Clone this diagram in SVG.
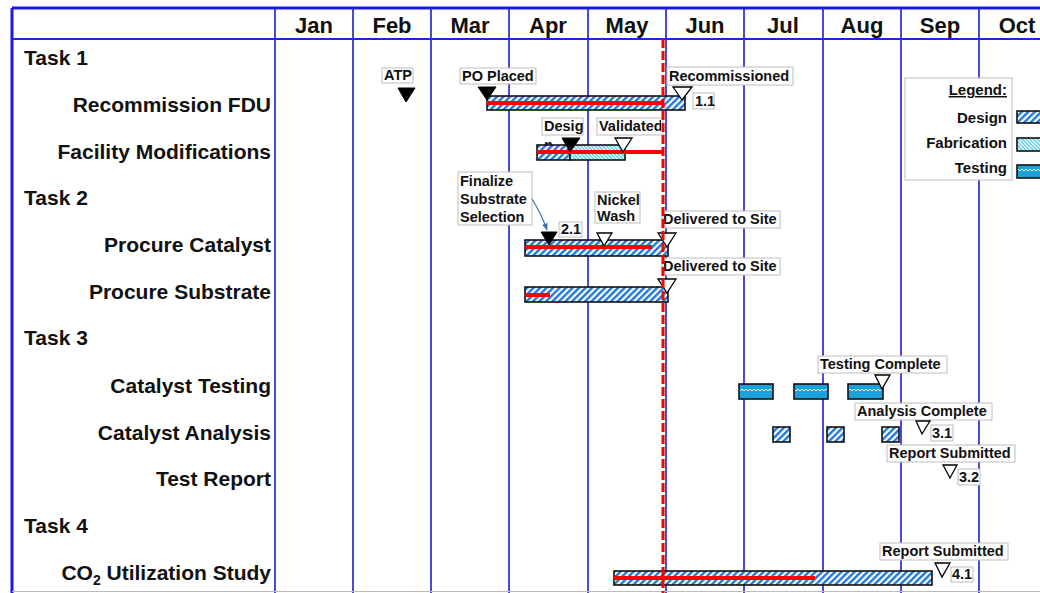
<svg xmlns="http://www.w3.org/2000/svg" width="1040" height="593" viewBox="0 0 1040 593">
<style>
.hdr{font-family:"Liberation Sans",Arial,sans-serif;font-weight:bold;font-size:22px;fill:#111;text-anchor:middle}
.row{font-family:"Liberation Sans",Arial,sans-serif;font-weight:bold;font-size:21px;fill:#111}
.sub{text-anchor:end}
.lbl{font-family:"Liberation Sans",Arial,sans-serif;font-weight:bold;font-size:14.5px;fill:#111}
.lg{font-family:"Liberation Sans",Arial,sans-serif;font-weight:bold;font-size:15px;fill:#111;text-anchor:end}
.box{fill:#fff;stroke:#bdbdbd;stroke-width:1}
.grid{stroke:#4a4ad6;stroke-width:2}
.bar{stroke:#111;stroke-width:1.6}
.prog{stroke:#ff0000;stroke-width:4}
.ms{fill:#000;stroke:#000;stroke-width:1}
.mo{fill:#fff;stroke:#000;stroke-width:1.3}
</style>
<defs>
<pattern id="design" patternUnits="userSpaceOnUse" width="4.6" height="4.6" patternTransform="rotate(45)">
<rect width="4.6" height="4.6" fill="#fff"/>
<rect width="2.4" height="4.6" fill="#1f78d8"/>
</pattern>
<pattern id="fab" patternUnits="userSpaceOnUse" width="2.6" height="2.6" patternTransform="rotate(-45)">
<rect width="2.6" height="2.6" fill="#e2f7fc"/>
<rect width="0.9" height="2.6" fill="#3fbfe2"/>
</pattern>
<pattern id="zig" patternUnits="userSpaceOnUse" width="4" height="4">
<polyline points="0,3 2,1 4,3" fill="none" stroke="#fff" stroke-width="0.9"/>
</pattern>
<clipPath id="valclip"><rect x="597" y="118" width="64" height="17"/></clipPath>
<marker id="arr" viewBox="0 0 10 10" refX="9" refY="5" markerWidth="6" markerHeight="6" orient="auto">
<path d="M0,1 L10,5 L0,9 z" fill="#3a6fb0"/>
</marker>
</defs>
<rect x="0" y="0" width="1040" height="593" fill="#fff"/>

<g id="grid">
<line class="grid" x1="275" y1="8" x2="275" y2="593"/>
<line class="grid" x1="353" y1="8" x2="353" y2="593"/>
<line class="grid" x1="431" y1="8" x2="431" y2="593"/>
<line class="grid" x1="509" y1="8" x2="509" y2="593"/>
<line class="grid" x1="588" y1="8" x2="588" y2="593"/>
<line class="grid" x1="666" y1="8" x2="666" y2="593"/>
<line class="grid" x1="744" y1="8" x2="744" y2="593"/>
<line class="grid" x1="823" y1="8" x2="823" y2="593"/>
<line class="grid" x1="901" y1="8" x2="901" y2="593"/>
<line class="grid" x1="979" y1="8" x2="979" y2="593"/>
<line x1="12" y1="39" x2="1040" y2="39" stroke="#2222e0" stroke-width="2"/>
<line x1="12" y1="8" x2="1040" y2="8" stroke="#1a1ae6" stroke-width="3"/>
<line x1="12" y1="8" x2="12" y2="593" stroke="#1a1ae6" stroke-width="3"/>
<line x1="12" y1="591.5" x2="1040" y2="591.5" stroke="#bbbbbb" stroke-width="1"/>
</g>

<g id="months">
<text class="hdr" x="314" y="33">Jan</text>
<text class="hdr" x="392" y="33">Feb</text>
<text class="hdr" x="470" y="33">Mar</text>
<text class="hdr" x="548" y="33">Apr</text>
<text class="hdr" x="627" y="33">May</text>
<text class="hdr" x="705" y="33">Jun</text>
<text class="hdr" x="783" y="33">Jul</text>
<text class="hdr" x="862" y="33">Aug</text>
<text class="hdr" x="940" y="33">Sep</text>
<text class="hdr" x="1017" y="33">Oct</text>
</g>

<g id="row-labels">
<text class="row" x="24" y="65">Task 1</text>
<text class="row sub" x="271" y="112">Recommission FDU</text>
<text class="row sub" x="271" y="159">Facility Modifications</text>
<text class="row" x="24" y="205">Task 2</text>
<text class="row sub" x="271" y="252">Procure Catalyst</text>
<text class="row sub" x="271" y="299">Procure Substrate</text>
<text class="row" x="24" y="345">Task 3</text>
<text class="row sub" x="271" y="393">Catalyst Testing</text>
<text class="row sub" x="271" y="440">Catalyst Analysis</text>
<text class="row sub" x="271" y="486">Test Report</text>
<text class="row" x="24" y="533">Task 4</text>
<text class="row sub" x="271" y="580">CO<tspan font-size="14" dy="5">2</tspan><tspan dy="-5"> Utilization Study</tspan></text>
</g>

<g id="legend">
<rect class="box" x="905" y="78" width="107" height="102"/>
<text class="lg" x="1007" y="95" font-size="17" text-decoration="underline">Legend:</text>
<text class="lg" x="1007" y="123">Design</text>
<text class="lg" x="1007" y="148">Fabrication</text>
<text class="lg" x="1007" y="173">Testing</text>
<rect class="bar" x="1017" y="111" width="30" height="12" fill="url(#design)"/>
<rect class="bar" x="1017" y="138" width="30" height="13" fill="url(#fab)"/>
<rect class="bar" x="1017" y="165" width="30" height="13" fill="#1aa3da"/>
<rect x="1018" y="168" width="28" height="4" fill="url(#zig)"/>
</g>

<g id="recommission-fdu">
<rect class="bar" x="487" y="96" width="198" height="14" fill="url(#design)"/>
<line class="prog" x1="487" y1="103" x2="663" y2="103"/>
<g id="ms-atp">
<rect class="box" x="382" y="68" width="31" height="15"/>
<text class="lbl" x="384" y="80">ATP</text>
<polygon class="ms" points="398,88 415,88 406,102"/>
</g>
<g id="ms-po">
<rect class="box" x="460" y="68" width="76" height="16"/>
<text class="lbl" x="462" y="80.5">PO Placed</text>
<polygon class="ms" points="478,87 496,87 487,100"/>
</g>
<g id="ms-recommissioned">
<rect class="box" x="667" y="67" width="126" height="18"/>
<text class="lbl" x="669" y="81">Recommissioned</text>
<polygon class="mo" points="673,87 692,87 682,100"/>
<rect class="box" x="693" y="93" width="21" height="16"/>
<text class="lbl" x="695" y="106">1.1</text>
</g>
</g>

<g id="facility-modifications">
<text class="lbl" x="544" y="150">n</text>
<rect class="bar" x="537" y="145" width="33" height="15" fill="url(#design)"/>
<rect class="bar" x="570" y="145" width="55" height="15" fill="url(#fab)"/>
<line class="prog" x1="537" y1="152" x2="663" y2="152"/>
<g id="ms-design">
<rect class="box" x="542" y="118" width="41" height="17"/>
<text class="lbl" x="544" y="131">Desig</text>
<polygon class="ms" points="562,138 580,138 570,152"/>
</g>
<g id="ms-validated">
<rect class="box" x="597" y="118" width="66" height="17"/>
<text class="lbl" x="599" y="131" font-size="15" clip-path="url(#valclip)">Validated</text>
<polygon class="mo" points="615,138 632,138 623,152"/>
</g>
</g>

<g id="procure-catalyst">
<rect class="bar" x="525" y="240" width="143" height="16" fill="url(#design)"/>
<line class="prog" x1="525" y1="247" x2="652" y2="247"/>
<g id="ms-finalize">
<rect class="box" x="458" y="172" width="74" height="53"/>
<text class="lbl" x="460" y="186">Finalize</text>
<text class="lbl" x="460" y="204">Substrate</text>
<text class="lbl" x="460" y="222">Selection</text>
<polygon class="ms" points="541,232 557,232 549,245"/>
<rect class="box" x="559" y="222" width="23" height="15"/>
<text class="lbl" x="561" y="234">2.1</text>
</g>
<g id="ms-nickel">
<rect class="box" x="595" y="192" width="45" height="31"/>
<text class="lbl" x="597" y="205">Nickel</text>
<text class="lbl" x="597" y="221">Wash</text>
<polygon class="mo" points="597,233 612,233 604,246"/>
</g>
<g id="ms-delivered-cat">
<rect class="box" x="662" y="211" width="118" height="17"/>
<text class="lbl" x="663" y="224">Delivered to Site</text>
<polygon class="mo" points="658,233 676,233 667,247"/>
</g>
</g>

<g id="procure-substrate">
<rect class="bar" x="525" y="287" width="143" height="15" fill="url(#design)"/>
<line class="prog" x1="525" y1="295" x2="550" y2="295"/>
<g id="ms-delivered-sub">
<rect class="box" x="662" y="258" width="118" height="17"/>
<text class="lbl" x="663" y="271">Delivered to Site</text>
<polygon class="mo" points="658,279 676,279 667,293"/>
</g>
</g>

<g id="catalyst-testing">
<rect class="bar" x="739" y="384" width="34" height="15" fill="#1aa3da"/>
<rect x="740" y="388" width="32" height="4" fill="url(#zig)"/>
<rect class="bar" x="794" y="384" width="34" height="15" fill="#1aa3da"/>
<rect x="795" y="388" width="32" height="4" fill="url(#zig)"/>
<rect class="bar" x="848" y="384" width="35" height="15" fill="#1aa3da"/>
<rect x="849" y="388" width="33" height="4" fill="url(#zig)"/>
<g id="ms-testing-complete">
<rect class="box" x="818" y="356" width="129" height="17"/>
<text class="lbl" x="820" y="369">Testing Complete</text>
<polygon class="mo" points="875,375 890,375 882,389"/>
</g>
</g>

<g id="catalyst-analysis">
<rect class="bar" x="773" y="427" width="17" height="15" fill="url(#design)"/>
<rect class="bar" x="827" y="427" width="17" height="15" fill="url(#design)"/>
<rect class="bar" x="882" y="427" width="17" height="15" fill="url(#design)"/>
<g id="ms-analysis-complete">
<rect class="box" x="855" y="403" width="137" height="17"/>
<text class="lbl" x="857" y="416">Analysis Complete</text>
<polygon class="mo" points="916,421 930,421 922,434"/>
<rect class="box" x="931" y="425" width="22" height="16"/>
<text class="lbl" x="932" y="438">3.1</text>
</g>
</g>

<g id="test-report">
<g id="ms-report-3">
<rect class="box" x="887" y="445" width="128" height="17"/>
<text class="lbl" x="889" y="458">Report Submitted</text>
<polygon class="mo" points="943,465 957,465 950,478"/>
<rect class="box" x="958" y="469" width="22" height="16"/>
<text class="lbl" x="959" y="482">3.2</text>
</g>
</g>

<g id="co2-study">
<rect class="bar" x="614" y="571" width="318" height="14" fill="url(#design)"/>
<line class="prog" x1="614" y1="578" x2="815" y2="578"/>
<g id="ms-report-4">
<rect class="box" x="880" y="543" width="128" height="17"/>
<text class="lbl" x="882" y="556">Report Submitted</text>
<polygon class="mo" points="935,563 950,563 942,577"/>
<rect class="box" x="951" y="567" width="22" height="15"/>
<text class="lbl" x="952" y="579">4.1</text>
</g>
</g>

<g id="connectors">
<path d="M532,199 Q541,213 547,230" fill="none" stroke="#3a6fb0" stroke-width="1.2" marker-end="url(#arr)"/>
</g>

<g id="status-line">
<line x1="663" y1="39" x2="663" y2="593" stroke="#ff0000" stroke-width="3" stroke-dasharray="9 3"/>
</g>
</svg>
